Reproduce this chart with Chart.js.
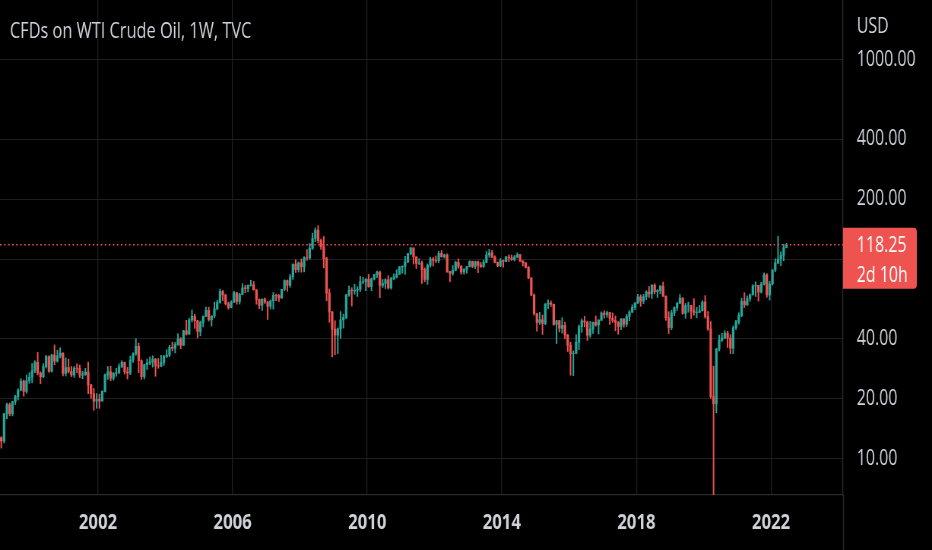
<!DOCTYPE html>
<html>
<head>
<meta charset="utf-8">
<script src="https://cdn.jsdelivr.net/npm/chart.js@4.4.1/dist/chart.umd.min.js"></script>
<style>
  html, body { margin: 0; padding: 0; background: #000; overflow: hidden; }
  /* the snapshot is horizontally squeezed, so draw wide and squeeze the same way */
  #wrap { width: 1226px; height: 550px; transform: scaleX(0.7602); transform-origin: 0 0; }
</style>
</head>
<body>
<div id="wrap"><canvas id="oil"></canvas></div>
<script>
// monthly candles, starting Jan 1999
const firstYear = 1999;
const firstOpen = 12.05;

const closes = [
  12.75, 12.27, 16.76, 18.66, 16.84, 19.29, 20.53, 22.10, 24.51, 21.75, 24.59, 25.60, // 1999
  27.64, 30.43, 26.90, 25.74, 29.01, 32.50, 27.43, 33.12, 30.84, 32.70, 33.82, 26.80, // 2000
  28.66, 27.39, 26.29, 28.46, 28.37, 26.25, 26.35, 27.20, 23.43, 21.18, 19.44, 19.84, // 2001
  19.48, 21.74, 26.31, 27.29, 25.31, 26.86, 27.02, 28.98, 30.45, 27.22, 26.89, 31.20, // 2002
  33.51, 36.60, 31.04, 25.80, 29.56, 30.19, 30.54, 31.57, 29.20, 29.11, 30.41, 32.52, // 2003
  33.05, 36.16, 35.76, 37.38, 39.88, 37.05, 43.80, 42.12, 49.64, 51.76, 49.13, 43.45, // 2004
  48.20, 51.75, 55.40, 49.72, 51.97, 56.50, 60.57, 68.94, 66.24, 59.76, 57.32, 61.04, // 2005
  67.92, 61.41, 66.63, 71.88, 71.29, 73.93, 74.40, 70.26, 62.91, 58.73, 63.13, 61.05, // 2006
  58.14, 61.79, 65.87, 65.71, 64.01, 70.68, 78.21, 74.04, 81.66, 94.53, 88.71, 95.98, // 2007
  91.75, 101.84, 101.58, 113.46, 127.35, 140.00, 124.08, 115.46, 100.64, 67.81, 54.43, 44.60, // 2008
  41.68, 44.76, 49.66, 51.12, 66.31, 69.89, 69.45, 69.96, 70.61, 77.00, 77.28, 79.36, // 2009
  72.89, 79.66, 83.76, 86.15, 73.97, 75.63, 78.95, 71.92, 79.97, 81.43, 84.11, 91.38, // 2010
  92.19, 96.97, 106.72, 113.93, 102.70, 95.42, 95.70, 88.81, 79.20, 93.19, 100.36, 98.83, // 2011
  98.48, 107.07, 103.02, 104.87, 86.53, 84.96, 88.06, 96.47, 92.19, 86.24, 88.91, 91.82, // 2012
  97.49, 92.05, 97.23, 93.46, 91.97, 96.56, 105.03, 107.65, 102.33, 96.38, 92.72, 98.42, // 2013
  97.49, 102.59, 101.58, 99.74, 102.71, 105.37, 98.17, 95.96, 91.16, 80.54, 66.15, 53.27, // 2014
  48.24, 49.76, 47.60, 59.63, 60.30, 59.47, 47.12, 49.20, 45.09, 46.59, 41.65, 37.04, // 2015
  33.62, 33.75, 38.34, 45.92, 49.10, 48.33, 41.60, 44.70, 48.24, 46.86, 49.44, 53.72, // 2016
  52.81, 54.01, 50.60, 49.33, 48.32, 46.04, 50.17, 47.23, 51.67, 54.38, 57.40, 60.42, // 2017
  64.73, 61.64, 64.94, 68.57, 67.04, 74.15, 68.76, 69.80, 73.25, 65.31, 50.93, 45.41, // 2018
  53.79, 57.22, 60.14, 63.91, 53.50, 58.47, 58.58, 55.10, 54.07, 54.18, 55.17, 61.06, // 2019
  51.56, 44.76, 20.48, 18.84, 35.49, 39.27, 40.27, 42.61, 40.22, 35.79, 45.34, 48.52, // 2020
  52.20, 61.50, 59.16, 63.58, 66.32, 73.47, 73.95, 68.50, 75.03, 83.57, 66.18, 75.21, // 2021
  88.15, 95.72, 100.28, 104.69, 114.67, 118.25                                        // 2022
];

const highs = [
  13.2, 12.9, 16.9, 19.0, 19.0, 19.4, 20.8, 22.4, 25.2, 24.8, 26.3, 27.0,
  30.0, 31.0, 34.1, 27.3, 30.0, 33.0, 32.8, 33.4, 37.2, 35.0, 36.0, 34.0,
  32.0, 31.6, 29.0, 29.0, 29.9, 29.5, 27.4, 28.4, 30.5, 23.6, 22.5, 21.2,
  21.1, 21.9, 26.6, 29.0, 29.1, 27.0, 28.4, 29.9, 31.0, 30.5, 28.7, 32.7,
  34.0, 39.99, 38.0, 31.3, 29.8, 31.6, 32.4, 32.8, 31.8, 31.8, 33.0, 33.0,
  35.2, 37.0, 38.4, 38.3, 42.3, 40.5, 44.0, 49.4, 50.5, 55.7, 53.0, 49.5,
  49.0, 52.0, 57.6, 57.5, 52.0, 61.0, 62.3, 70.9, 69.8, 66.5, 61.0, 61.9,
  69.2, 68.0, 67.5, 75.4, 74.1, 74.4, 78.4, 77.3, 70.3, 63.2, 63.2, 64.0,
  61.5, 62.5, 68.1, 66.9, 66.6, 70.7, 78.8, 78.7, 83.9, 94.6, 99.3, 96.8,
  100.1, 103.0, 111.8, 119.9, 135.1, 143.7, 147.3, 126.2, 130.0, 102.4, 71.0, 54.7,
  49.2, 45.3, 54.7, 53.1, 66.6, 73.4, 72.0, 75.0, 72.9, 82.0, 81.0, 80.0,
  83.9, 80.5, 83.9, 87.2, 87.2, 79.2, 79.9, 82.7, 81.2, 84.5, 88.6, 92.0,
  92.6, 103.4, 106.9, 114.8, 114.0, 102.9, 100.6, 98.0, 90.5, 94.7, 102.4, 102.0,
  103.7, 109.8, 110.6, 106.0, 106.5, 87.0, 92.9, 97.8, 100.4, 93.0, 89.7, 91.9,
  98.2, 97.8, 97.8, 97.9, 96.3, 99.0, 109.3, 112.2, 110.7, 104.0, 96.9, 100.8,
  99.0, 103.5, 105.2, 104.8, 104.4, 107.7, 105.8, 98.3, 96.2, 92.0, 81.0, 67.0,
  53.6, 54.2, 52.5, 59.9, 62.6, 61.8, 59.6, 49.5, 49.4, 50.9, 48.4, 42.0,
  38.4, 34.7, 41.9, 46.8, 50.2, 51.7, 49.0, 48.8, 48.4, 51.9, 49.9, 54.5,
  55.2, 54.9, 54.3, 53.8, 52.0, 48.7, 50.4, 50.4, 52.9, 55.2, 59.1, 60.5,
  66.7, 66.3, 66.6, 69.6, 72.9, 74.5, 75.3, 70.4, 73.9, 76.9, 65.5, 54.6,
  55.4, 57.8, 60.7, 66.6, 64.0, 60.0, 60.9, 58.8, 63.4, 57.5, 58.7, 61.9,
  65.7, 54.7, 48.7, 29.1, 35.7, 41.6, 42.5, 43.8, 43.5, 41.9, 46.3, 49.4,
  53.9, 63.8, 67.9, 65.5, 67.0, 74.5, 77.0, 74.0, 76.7, 85.4, 84.7, 77.5,
  88.8, 100.5, 130.5, 108.9, 118.7, 120.0
];

const lows = [
  11.9, 11.3, 12.0, 15.9, 16.4, 16.4, 18.7, 19.7, 21.9, 20.6, 21.3, 23.9,
  24.0, 27.0, 26.3, 23.8, 25.5, 28.5, 27.1, 27.2, 29.6, 30.5, 32.0, 26.0,
  26.0, 26.9, 25.8, 25.6, 27.0, 25.5, 25.2, 26.2, 21.2, 20.1, 17.5, 17.9,
  17.9, 19.4, 21.6, 25.0, 24.6, 24.8, 25.9, 26.7, 28.6, 26.6, 25.1, 26.4,
  30.4, 33.0, 27.0, 25.0, 25.1, 28.0, 29.6, 28.8, 25.9, 28.4, 28.9, 29.4,
  32.2, 32.5, 34.7, 33.9, 37.0, 35.6, 37.0, 41.7, 42.0, 48.5, 45.0, 40.3,
  41.3, 45.8, 51.5, 49.0, 46.2, 50.9, 55.7, 60.2, 62.0, 59.0, 56.2, 57.0,
  60.6, 59.5, 59.6, 66.4, 68.0, 68.6, 73.3, 70.0, 59.5, 56.5, 55.4, 60.0,
  49.9, 56.3, 56.2, 62.0, 61.4, 63.5, 69.6, 69.1, 72.4, 79.2, 85.9, 86.2,
  86.1, 86.4, 98.7, 100.0, 112.0, 122.4, 120.4, 112.0, 90.5, 62.0, 48.3, 32.4,
  33.2, 33.6, 40.1, 45.2, 50.3, 65.2, 58.3, 66.8, 65.1, 68.9, 75.4, 69.5,
  72.4, 69.5, 78.7, 80.9, 64.2, 72.2, 71.3, 70.8, 70.8, 79.0, 80.5, 84.0,
  85.1, 84.1, 96.1, 105.4, 94.6, 90.0, 94.0, 75.7, 77.1, 74.9, 91.3, 92.5,
  96.2, 96.0, 102.4, 101.3, 86.0, 77.3, 83.2, 87.5, 90.0, 84.1, 84.1, 85.2,
  91.5, 90.8, 89.8, 85.6, 91.0, 91.0, 95.9, 102.2, 101.7, 95.9, 91.8, 91.8,
  91.2, 97.3, 97.4, 98.7, 98.0, 101.6, 97.1, 92.5, 90.4, 79.8, 65.7, 52.4,
  43.6, 47.1, 42.0, 47.0, 56.5, 58.0, 46.7, 37.8, 43.2, 42.6, 39.9, 34.5,
  26.2, 26.1, 33.7, 35.2, 43.0, 45.8, 39.2, 40.6, 42.5, 46.2, 42.2, 49.3,
  50.7, 51.2, 47.1, 48.2, 43.8, 42.1, 44.4, 45.6, 46.0, 49.2, 54.0, 55.8,
  59.9, 58.1, 59.9, 62.7, 64.4, 63.6, 67.0, 64.4, 67.1, 65.0, 49.4, 42.4,
  44.4, 52.1, 55.3, 60.0, 53.0, 50.6, 54.2, 50.5, 52.4, 50.9, 54.0, 55.0,
  50.6, 44.0, 20.1, 6.5, 17.0, 34.7, 38.7, 40.0, 36.1, 33.6, 33.6, 44.4,
  47.3, 51.5, 57.3, 58.6, 61.6, 66.1, 65.0, 61.7, 67.6, 74.2, 64.4, 62.4,
  74.3, 86.5, 95.0, 92.9, 98.2, 114.0
];

const yearTicks = [2002, 2006, 2010, 2014, 2018, 2022];
const priceTicks = [10, 20, 40, 100, 200, 400, 1000];
const lastPrice = 118.25;
const countdown = '2d 10h';
const title = 'CFDs on WTI Crude Oil, 1W, TVC';

const UP = '#26a69a';
const DOWN = '#ef5350';
const TEXT = '#d1d4dc';
const GRID = '#1e1f22';
const FONT = '"Open Sans", "Noto Sans", sans-serif';

const times = closes.map((c, i) => firstYear + (i + 0.5) / 12);
const opens = closes.map((c, i) => (i === 0 ? firstOpen : closes[i - 1]));
const colors = closes.map((c, i) => (c >= opens[i] ? UP : DOWN));
const bodies = closes.map((c, i) => ({ x: times[i], y: [opens[i], c] }));
const wicks = closes.map((c, i) => ({ x: times[i], y: [lows[i], highs[i]] }));

const overlay = {
  id: 'overlay',
  beforeDraw(chart) {
    const ctx = chart.ctx;
    ctx.save();
    ctx.fillStyle = '#000';
    ctx.fillRect(0, 0, chart.width, chart.height);
    ctx.restore();
  },
  afterDraw(chart) {
    const { ctx, chartArea: a, scales: { y } } = chart;
    const py = y.getPixelForValue(lastPrice);
    ctx.save();

    // current price line
    ctx.strokeStyle = DOWN;
    ctx.lineWidth = 1.4;
    ctx.setLineDash([2, 3.3]);
    ctx.beginPath();
    ctx.moveTo(a.left, py);
    ctx.lineTo(a.right, py);
    ctx.stroke();
    ctx.setLineDash([]);

    // price axis border runs down through the time axis too
    ctx.strokeStyle = '#2a2b2e';
    ctx.lineWidth = 1.3;
    ctx.beginPath();
    ctx.moveTo(a.right + 0.5, a.bottom);
    ctx.lineTo(a.right + 0.5, chart.height);
    ctx.stroke();

    // price label
    ctx.fillStyle = DOWN;
    ctx.beginPath();
    ctx.roundRect(a.right, py - 17, 97, 61, [0, 4, 4, 0]);
    ctx.fill();
    ctx.fillStyle = '#fff';
    ctx.font = '21px ' + FONT;
    ctx.textAlign = 'left';
    ctx.textBaseline = 'middle';
    ctx.fillText(lastPrice.toFixed(2), a.right + 18, py + 1);
    ctx.fillText(countdown, a.right + 18, py + 31);

    ctx.fillStyle = TEXT;
    ctx.fillText('USD', a.right + 18, 27);

    ctx.font = '21.5px ' + FONT;
    ctx.fillText(title, 13, 32);
    ctx.restore();
  }
};

new Chart(document.getElementById('oil'), {
  type: 'bar',
  data: {
    datasets: [
      { data: wicks, backgroundColor: colors, barThickness: 1.3, grouped: false, order: 2 },
      { data: bodies, backgroundColor: colors, barThickness: 2.6, grouped: false, order: 1 }
    ]
  },
  options: {
    responsive: true,
    maintainAspectRatio: false,
    animation: false,
    layout: { padding: 0 },
    plugins: { legend: { display: false }, tooltip: { enabled: false } },
    scales: {
      x: {
        type: 'linear',
        min: 1999.088,
        max: 2024.14,
        offset: false,
        afterBuildTicks: s => { s.ticks = yearTicks.map(v => ({ value: v })); },
        afterFit: s => { s.height = 55; s.paddingLeft = 0; s.paddingRight = 0; },
        grid: { color: GRID, lineWidth: 1.3, drawTicks: false, offset: false },
        border: { color: '#2a2b2e', width: 1.3 },
        ticks: {
          color: '#cfd2d8',
          font: { family: FONT, size: 22, weight: 'bold' },
          padding: 15,
          maxRotation: 0,
          autoSkip: false,
          callback: v => String(v)
        }
      },
      y: {
        type: 'logarithmic',
        position: 'right',
        min: 6.58,
        max: 1992.7,
        afterBuildTicks: s => { s.ticks = priceTicks.map(v => ({ value: v })); },
        afterFit: s => { s.width = 117; s.paddingTop = 0; s.paddingBottom = 0; },
        grid: { color: GRID, drawTicks: false },
        border: { color: '#2a2b2e', width: 1.3 },
        ticks: {
          color: TEXT,
          font: { family: FONT, size: 21 },
          padding: 18,
          autoSkip: false,
          callback: v => Number(v).toFixed(2)
        }
      }
    }
  },
  plugins: [overlay]
});
</script>
</body>
</html>
